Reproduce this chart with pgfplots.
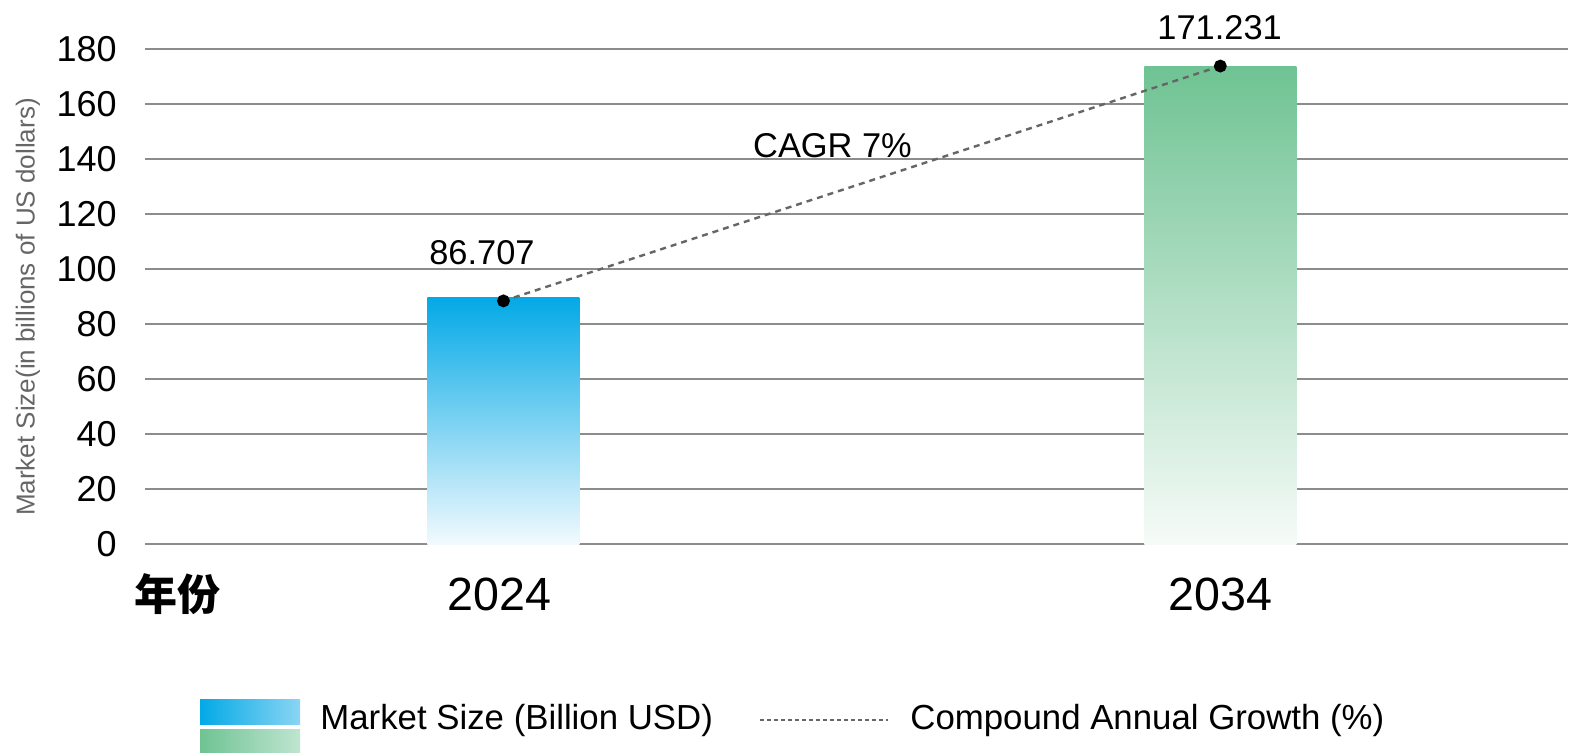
\documentclass[border=0pt]{standalone}
\usepackage{pgfplots}
\pgfplotsset{compat=1.18}
\usepackage{fontspec}
\setmainfont{Liberation Sans}
\newfontfamily\cjk{Noto Sans CJK SC}
\definecolor{bluetop}{HTML}{03A9E6}
\definecolor{bluebot}{HTML}{F2FAFE}
\definecolor{greentop}{HTML}{6FC393}
\definecolor{greenbot}{HTML}{F6FBF8}
\definecolor{bluelight}{HTML}{8AD5F4}
\definecolor{greenlight}{HTML}{BFE5D0}
\definecolor{gridgray}{HTML}{8C8C8C}
\definecolor{linegray}{HTML}{666666}
\begin{document}
\begin{tikzpicture}
\useasboundingbox (0,0) rectangle (786.5pt,376pt);
\begin{axis}[
    at={(72.5pt,104pt)}, anchor=south west,
    scale only axis,
    width=711.5pt, height=247.5pt,
    xmin=-0.5, xmax=1.485,
    ymin=0, ymax=180,
    ytick={0,20,...,180},
    xtick={-0.0056,1},
    xticklabels={2024,2034},
    ymajorgrids,
    grid style={gridgray, line width=0.75pt},
    axis line style={draw=none},
    major tick length=0pt,
    /pgf/number format/assume math mode=true,
    yticklabel style={font=\fontsize{18}{20}\selectfont, anchor=east, inner sep=0pt, xshift=-14pt},
    xticklabel style={font=\fontsize{23.3}{26}\selectfont, anchor=base, inner sep=0pt, yshift=-33pt},
    clip=false,
]
\addplot[ybar, bar width=76pt, bar shift=0pt, draw=none, top color=bluetop, bottom color=bluebot]
    coordinates {(0,89.5)};
\addplot[ybar, bar width=76pt, bar shift=0pt, draw=none, top color=greentop, bottom color=greenbot]
    coordinates {(1,173.5)};
\addplot[linegray, line width=1.2pt, dash pattern=on 3pt off 2.5pt, mark=*, mark size=2.6pt,
    mark options={solid, fill=black, draw=black}]
    coordinates {(0,88.4) (1,173.8)};
\node[anchor=base, font=\fontsize{17.2}{20}\selectfont] at (axis cs:-0.030,101.5) {86.707};
\node[anchor=base, font=\fontsize{17.2}{20}\selectfont] at (axis cs:0.999,183.3) {171.231};
\node[anchor=base, font=\fontsize{17.2}{20}\selectfont] at (axis cs:0.459,140.4) {CAGR 7\%};
\end{axis}
\begin{scope}[x=0.5pt, y=-0.5pt, shift={(0,376pt)}]
  % y label
  \node[rotate=90, text=linegray, font=\fontsize{13}{15}\selectfont] at (28,307) {Market Size(in billions of US dollars)};
  % x axis title
  \node[anchor=base, font=\cjk\bfseries\fontsize{21.5}{26}\selectfont] at (177,610) {年份};
  % legend
  \shade[left color=bluetop, right color=bluelight] (200,699) rectangle (300,724);
  \shade[left color=greentop, right color=greenlight] (200,729) rectangle (300,760);
  \node[anchor=base west, inner sep=0pt, font=\fontsize{17.4}{20}\selectfont] at (320,729) {Market Size (Billion USD)};
  \draw[linegray, line width=1pt, dash pattern=on 2pt off 1.5pt] (760,720) -- (888,720);
  \node[anchor=base west, inner sep=0pt, font=\fontsize{17.4}{20}\selectfont] at (910,729) {Compound Annual Growth (\%)};
\end{scope}
\end{tikzpicture}
\end{document}
